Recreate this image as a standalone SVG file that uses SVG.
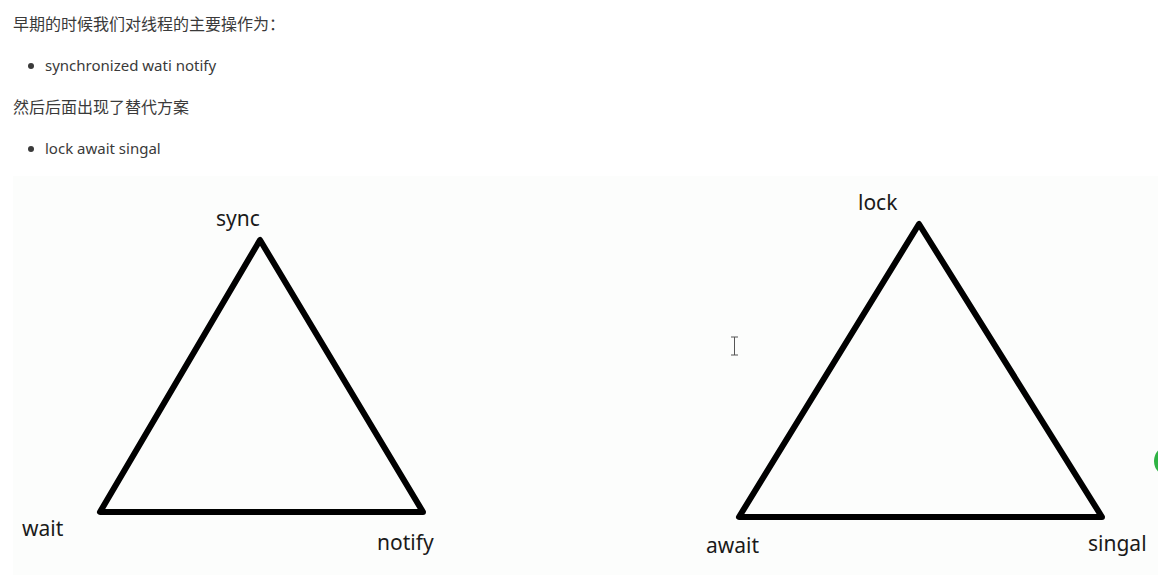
<svg xmlns="http://www.w3.org/2000/svg" width="1158" height="575" viewBox="0 0 1158 575">
<style>
.doc{font-family:"Noto Sans","Noto Sans CJK SC",sans-serif;font-size:15px;fill:#3a3a3a}
.cjk{font-size:16px}
.lbl{font-family:"Noto Sans","Open Sans",sans-serif;font-size:21px;fill:#1a1a1a}
.tri{fill:none;stroke:#000;stroke-width:6;stroke-linejoin:round}
</style>
<rect width="1158" height="575" fill="#ffffff"/>
<g id="text">
<text class="doc cjk" x="13" y="30">早期的时候我们对线程的主要操作为：</text>
<circle cx="31" cy="66" r="3" fill="#3a3a3a"/>
<text class="doc" x="45" y="71">synchronized wati notify</text>
<text class="doc cjk" x="13" y="113">然后后面出现了替代方案</text>
<circle cx="31" cy="149" r="3" fill="#3a3a3a"/>
<text class="doc" x="45" y="154">lock await singal</text>
</g>
<rect x="13" y="176" width="1145" height="399" fill="#fcfdfc"/>
<g id="left-triangle">
<polygon class="tri" points="260,240 100,512 423,512"/>
</g>
<g id="right-triangle">
<polygon class="tri" points="919,224 739,517 1102,517"/>
</g>
<g id="labels">
<text class="lbl" x="216" y="226">sync</text>
<text class="lbl" x="22" y="536">wait</text>
<text class="lbl" x="377" y="550">notify</text>
<text class="lbl" x="858" y="210">lock</text>
<text class="lbl" x="706" y="553">await</text>
<text class="lbl" x="1088" y="551">singal</text>
</g>
<g id="cursor" stroke="#555" stroke-width="1" fill="none">
<path d="M731,337 h7 M734.5,337 v18 M731,355 h7"/>
</g>
<g id="overlay">
<circle cx="1170" cy="461" r="16" fill="#2fb344"/>
</g>
</svg>
